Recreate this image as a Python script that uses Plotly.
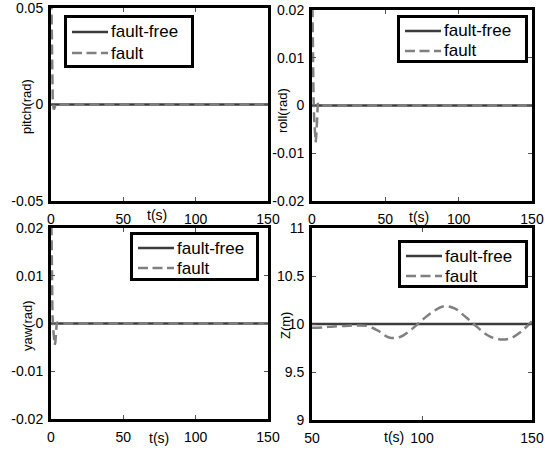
import plotly.graph_objects as go

# ---------------- data ----------------
t_end = [0, 150]
pitch_free = [0, 0]
roll_free = [0, 0]
yaw_free = [0, 0]

t_pitch_fault = [0, 0.4, 0.8, 1.2, 1.6, 2.0, 2.6, 3.2, 4.0, 6, 150]
pitch_fault = [0.07, 0.03, 0.008, 0.001, -0.001, -0.0026, -0.0015, 0.0003, 0.0, 0.0, 0.0]

t_roll_fault = [0, 0.5, 1.0, 1.5, 2.0, 2.5, 3.0, 3.5, 4.0, 5.0, 150]
roll_fault = [0.03, 0.012, 0.002, -0.003, -0.006, -0.0077, -0.006, -0.002, 0.0005, 0.0, 0.0]

t_yaw_fault = [0, 0.5, 1.0, 1.5, 2.0, 2.5, 3.0, 3.5, 4.0, 5.0, 150]
yaw_fault = [0.03, 0.012, 0.002, -0.001, -0.003, -0.0045, -0.004, -0.002, 0.0003, 0.0, 0.0]

t_z = [50, 55, 60, 65, 70, 75, 80, 85, 90, 95, 100, 105, 110, 115, 120, 125, 130, 135, 140, 145, 150]
z_fault = [9.96, 9.965, 9.975, 9.98, 9.985, 9.98, 9.93, 9.86, 9.865, 9.94, 10.04, 10.13, 10.185,
           10.16, 10.07, 9.97, 9.88, 9.84, 9.85, 9.92, 10.03]
t_z_free = [50, 150]
z_free = [10, 10]

series_names = ["fault-free", "fault"]

x_ticks_left = [0, 50, 100, 150]
x_ticks_z = [50, 100, 150]
pitch_ticks = [-0.05, 0, 0.05]
pitch_ticktext = ["-0.05", "0", "0.05"]
small_ticks = [-0.02, -0.01, 0, 0.01, 0.02]
small_ticktext = ["-0.02", "-0.01", "0", "0.01", "0.02"]
z_ticks = [9, 9.5, 10, 10.5, 11]
z_ticktext = ["9", "9.5", "10", "10.5", "11"]

# ---------------- styling ----------------
W, H = 545, 451
FONT = "Liberation Sans, Arial, sans-serif"
C_FREE = "#3c3c3c"
C_FAULT = "#808080"
DASH = "10px,5px"
LEG_DASH = "10px,4.5px"

def px_x(p):
    return p / W

def px_y(p):
    return 1 - p / H

fig = go.Figure()

panels = [
    dict(ax="", t_fault=t_pitch_fault, fault=pitch_fault, t_free=t_end, free=pitch_free,
         xr=[0, 150], yr=[-0.05, 0.05], xt=x_ticks_left, yt=pitch_ticks, ytt=pitch_ticktext,
         dom_x=(51, 268), dom_y=(8, 201), ytitle="pitch(rad)", ytpos=(26, 107), xtpos=(157, 215),
         leg=(64, 15, 194, 68)),
    dict(ax="2", t_fault=t_roll_fault, fault=roll_fault, t_free=t_end, free=roll_free,
         xr=[0, 150], yr=[-0.02, 0.02], xt=x_ticks_left, yt=small_ticks, ytt=small_ticktext,
         dom_x=(312, 532), dom_y=(10, 201), ytitle="roll(rad)", ytpos=(283, 111), xtpos=(419, 217),
         leg=(397, 15, 528, 63)),
    dict(ax="3", t_fault=t_yaw_fault, fault=yaw_fault, t_free=t_end, free=yaw_free,
         xr=[0, 150], yr=[-0.02, 0.02], xt=x_ticks_left, yt=small_ticks, ytt=small_ticktext,
         dom_x=(51, 268), dom_y=(228, 419), ytitle="yaw(rad)", ytpos=(27, 326), xtpos=(159, 438),
         leg=(130, 232, 259, 281)),
    dict(ax="4", t_fault=t_z, fault=z_fault, t_free=t_z_free, free=z_free,
         xr=[50, 150], yr=[9, 11], xt=x_ticks_z, yt=z_ticks, ytt=z_ticktext,
         dom_x=(312, 532), dom_y=(228, 420), ytitle="Z(m)", ytpos=(285, 326), xtpos=(394, 437),
         leg=(398, 240, 528, 288)),
]

layout_updates = {}
annotations = []
shapes = []
for i, p in enumerate(panels):
    ax = p["ax"]
    xname = "x" + ax
    yname = "y" + ax
    fig.add_trace(go.Scatter(x=p["t_free"], y=p["free"], mode="lines", name=series_names[0],
                             line=dict(color=C_FREE, width=2.5), xaxis=xname, yaxis=yname,
                             showlegend=False))
    fig.add_trace(go.Scatter(x=p["t_fault"], y=p["fault"], mode="lines", name=series_names[1],
                             line=dict(color=C_FAULT, width=2.5, dash=DASH,
                                       shape="spline" if ax == "4" else "linear"),
                             xaxis=xname, yaxis=yname, showlegend=False))
    common = dict(showline=True, linewidth=3, linecolor="black", mirror="ticks",
                  ticks="inside", ticklen=4, tickwidth=1, tickcolor="#555555",
                  showgrid=False, zeroline=False, automargin=False,
                  ticklabeloverflow="allow",
                  tickfont=dict(family=FONT, size=14, color="black"))
    xkey = "xaxis" + ax
    ykey = "yaxis" + ax
    layout_updates[xkey] = dict(common, domain=[px_x(p["dom_x"][0]), px_x(p["dom_x"][1])],
                                range=p["xr"], tickvals=p["xt"], anchor=yname,
                                ticklabelstandoff=3)
    layout_updates[ykey] = dict(common, domain=[px_y(p["dom_y"][1]), px_y(p["dom_y"][0])],
                                range=p["yr"], tickvals=p["yt"], ticktext=p["ytt"], anchor=xname,
                                ticklabelstandoff=2)

    # ----- legend box (drawn manually to match the reference layout) -----
    lx0, ly0, lx1, ly1 = p["leg"]
    shapes.append(dict(type="rect", xref="paper", yref="paper",
                       x0=px_x(lx0 + 1.5), x1=px_x(lx1 - 1.5),
                       y0=px_y(ly1 - 1.5), y1=px_y(ly0 + 1.5),
                       line=dict(color="black", width=3), fillcolor="white", layer="above"))
    rows = [ly0 + 16, ly0 + 36] if (ly1 - ly0) < 52 else [ly0 + 17, ly0 + 38]
    styles = [dict(color=C_FREE, width=2.5), dict(color=C_FAULT, width=2.5, dash=LEG_DASH)]
    for name, ry, st in zip(series_names, rows, styles):
        shapes.append(dict(type="line", xref="paper", yref="paper",
                           x0=px_x(lx0 + 8), x1=px_x(lx0 + 44), y0=px_y(ry), y1=px_y(ry),
                           line=st, layer="above"))
        annotations.append(dict(text=name, x=px_x(lx0 + 45), y=px_y(ry), xref="paper",
                                yref="paper", showarrow=False, xanchor="left",
                                yanchor="middle",
                                font=dict(family=FONT, size=17, color="black")))

    annotations.append(dict(text=p["ytitle"], x=px_x(p["ytpos"][0]), y=px_y(p["ytpos"][1]),
                            xref="paper", yref="paper", showarrow=False, textangle=-90,
                            xanchor="center", yanchor="middle",
                            font=dict(family=FONT, size=13, color="black")))
    annotations.append(dict(text="t(s)", x=px_x(p["xtpos"][0]), y=px_y(p["xtpos"][1]),
                            xref="paper", yref="paper", showarrow=False,
                            xanchor="center", yanchor="middle",
                            font=dict(family=FONT, size=14, color="black")))

fig.update_layout(width=W, height=H, margin=dict(l=0, r=0, t=0, b=0, autoexpand=False),
                  paper_bgcolor="white", plot_bgcolor="white", showlegend=False,
                  annotations=annotations, shapes=shapes, **layout_updates)

fig.write_html("out.html", config={"displayModeBar": False},
               post_script="document.body.style.margin='0';document.body.style.overflow='hidden';")
